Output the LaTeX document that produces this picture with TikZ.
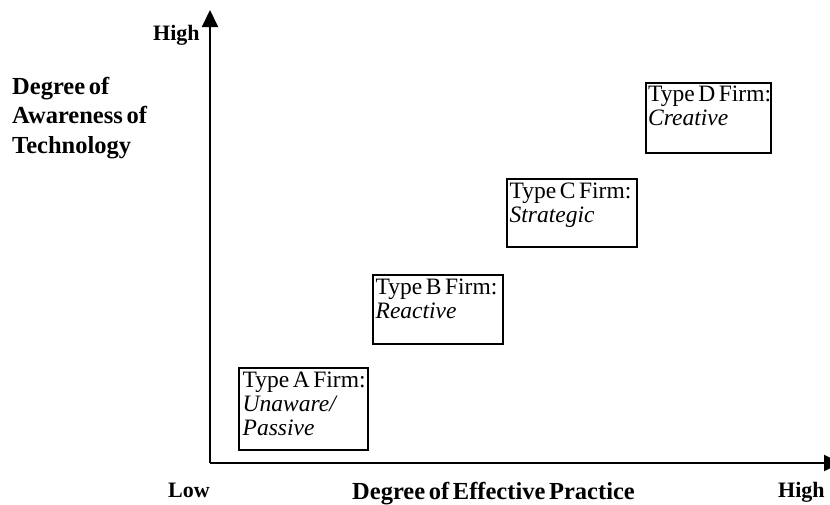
\documentclass[tikz,border=0pt]{standalone}
\usepackage{fontspec}
\setmainfont{Liberation Serif}
\usetikzlibrary{arrows.meta}
\newcommand{\tightspaces}{\spaceskip=0.15em plus 0.05em\relax}

\begin{document}
\begin{tikzpicture}[x=1pt, y=-1pt,
  firm box/.style={rectangle, draw, line width=1.6pt, inner sep=0pt, anchor=north west},
  firm text/.style={anchor=north west, align=left, inner sep=0pt,
    font=\fontsize{23.5}{24}\selectfont\tightspaces},
  axis label/.style={anchor=base west, inner sep=0pt,
    font=\fontsize{22}{22}\selectfont\bfseries},
  axis title/.style={inner sep=0pt,
    font=\fontsize{24.5}{29.5}\selectfont\bfseries\tightspaces},
  axis/.style={line width=2pt, -{Triangle[length=17pt,width=16pt]}}]
  \useasboundingbox (0,0) rectangle (830,504);

  \coordinate (origin) at (210,463);
  \coordinate (ytop) at (210,10);
  \coordinate (xend) at (841,463);

  \node[axis label] (yhigh) at (153,40) {High};
  \node[axis title, anchor=north west, align=left] (ytitle) at (12,77) {Degree of\\Awareness of\\Technology};
  \node[axis label] (xlow) at (168,497) {Low};
  \node[axis title, anchor=base west] (xtitle) at (352,499) {Degree of Effective Practice};
  \node[axis label] (xhigh) at (778,497) {High};

  \node[firm box, minimum width=129pt, minimum height=82pt] (boxA) at (238,367) {};
  \node[firm box, minimum width=130pt, minimum height=69pt] (boxB) at (372,274) {};
  \node[firm box, minimum width=130pt, minimum height=68pt] (boxC) at (506,178) {};
  \node[firm box, minimum width=125pt, minimum height=70pt] (boxD) at (645,82) {};

  \node[firm text] (textA) at ([xshift=4.5pt,yshift=-5pt]boxA.north west) {Type A Firm:\\\textit{Unaware/}\\\textit{Passive}};
  \node[firm text] (textB) at ([xshift=3.5pt,yshift=-5pt]boxB.north west) {Type B Firm:\\\textit{Reactive}};
  \node[firm text] (textC) at ([xshift=3.5pt,yshift=-5pt]boxC.north west) {Type C Firm:\\\textit{Strategic}};
  \node[firm text] (textD) at ([xshift=3pt,yshift=-4pt]boxD.north west) {Type D Firm:\\\textit{Creative}};

  \draw[axis] (origin) -- (ytop);
  \draw[axis] (origin) -- (xend);
\end{tikzpicture}
\end{document}
